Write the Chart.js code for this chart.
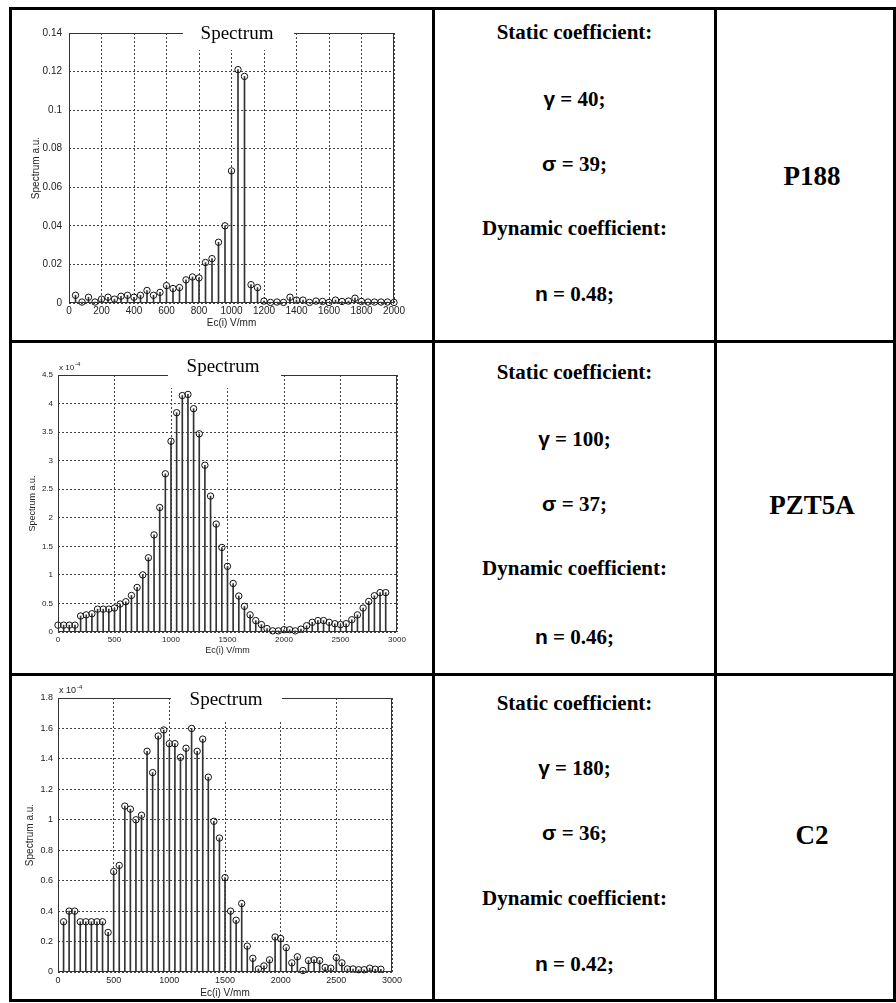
<!DOCTYPE html>
<html>
<head>
<meta charset="utf-8">
<script src="https://cdn.jsdelivr.net/npm/chart.js@4"></script>
<style>
  body { margin: 0; background: #fff; width: 896px; height: 1003px; position: relative; overflow: hidden; }
  .ln { position: absolute; background: #000; }
  .cv { position: absolute; left: 12px; }
  .t {
    position: absolute; left: 435px; width: 279px; text-align: center; white-space: nowrap;
    font-family: "Liberation Serif", "Times New Roman", serif; font-weight: bold;
    font-size: 21px; line-height: 21px; color: #000;
  }
  .g { font-family: "Liberation Sans", Arial, sans-serif; }
  .name { left: 722px; width: 180px; font-size: 27px; line-height: 27px; }
</style>
</head>
<body>
<!-- table rules -->
<div class="ln" style="left:9px;top:7px;width:887px;height:3px"></div>
<div class="ln" style="left:9px;top:999px;width:887px;height:3px"></div>
<div class="ln" style="left:9px;top:7px;width:3px;height:995px"></div>
<div class="ln" style="left:893px;top:7px;width:3px;height:995px"></div>
<div class="ln" style="left:432px;top:7px;width:3px;height:995px"></div>
<div class="ln" style="left:714px;top:7px;width:3px;height:995px"></div>
<div class="ln" style="left:9px;top:340px;width:887px;height:3px"></div>
<div class="ln" style="left:9px;top:673px;width:887px;height:3px"></div>

<canvas id="c1" class="cv" width="420" height="330" style="top:10px"></canvas>
<canvas id="c2" class="cv" width="420" height="330" style="top:343px"></canvas>
<canvas id="c3" class="cv" width="420" height="323" style="top:676px"></canvas>

<!-- row 1 -->
<div class="t" style="top:22px">Static coefficient:</div>
<div class="t" style="top:88px"><span class="g">γ</span> = 40;</div>
<div class="t" style="top:153px"><span class="g">σ</span> = 39;</div>
<div class="t" style="top:218px">Dynamic coefficient:</div>
<div class="t" style="top:283px"><span class="g">n</span> = 0.48;</div>
<div class="t name" style="top:163px">P188</div>
<!-- row 2 -->
<div class="t" style="top:362px">Static coefficient:</div>
<div class="t" style="top:428px"><span class="g">γ</span> = 100;</div>
<div class="t" style="top:493px"><span class="g">σ</span> = 37;</div>
<div class="t" style="top:558px">Dynamic coefficient:</div>
<div class="t" style="top:626px"><span class="g">n</span> = 0.46;</div>
<div class="t name" style="top:492px">PZT5A</div>
<!-- row 3 -->
<div class="t" style="top:693px">Static coefficient:</div>
<div class="t" style="top:757px"><span class="g">γ</span> = 180;</div>
<div class="t" style="top:822px"><span class="g">σ</span> = 36;</div>
<div class="t" style="top:888px">Dynamic coefficient:</div>
<div class="t" style="top:953px"><span class="g">n</span> = 0.42;</div>
<div class="t name" style="top:822px">C2</div>

<script>
// P188 spectrum
const xP188 = [40, 80, 120, 160, 200, 240, 280, 320, 360, 400, 440, 480, 520, 560, 600, 640, 680, 720, 760, 800,
  840, 880, 920, 960, 1000, 1040, 1080, 1120, 1160, 1200, 1240, 1280, 1320, 1360, 1400, 1440, 1480, 1520, 1560, 1600,
  1640, 1680, 1720, 1760, 1800, 1840, 1880, 1920, 1960, 2000]
const yP188 = [0.004, 0.0005, 0.003, 0.0005, 0.002, 0.003, 0.002, 0.0035, 0.004, 0.003, 0.004, 0.0065, 0.004, 0.0055,
  0.009, 0.0075, 0.008, 0.012, 0.0135, 0.013, 0.021, 0.023, 0.0315, 0.04, 0.0685, 0.121, 0.1175, 0.0095, 0.008, 0.001,
  0.0003, 0.0005, 0.0003, 0.003, 0.0015, 0.0015, 0.0003, 0.001, 0.0008, 0.0003, 0.0015, 0.0008, 0.001, 0.0025, 0.0008,
  0.0005, 0.0005, 0.0005, 0.0005, 0.0003]
const xTicksP188 = [0, 200, 400, 600, 800, 1000, 1200, 1400, 1600, 1800, 2000]
const yTicksP188 = [0, 0.02, 0.04, 0.06, 0.08, 0.1, 0.12, 0.14]

// PZT5A spectrum (x 10^-4)
const xPZT = [0, 50, 100, 150, 200, 250, 300, 350, 400, 450, 500, 550, 600, 650, 700, 750, 800, 850, 900, 950,
  1000, 1050, 1100, 1150, 1200, 1250, 1300, 1350, 1400, 1450, 1500, 1550, 1600, 1650, 1700, 1750, 1800, 1850, 1900, 1950,
  2000, 2050, 2100, 2150, 2200, 2250, 2300, 2350, 2400, 2450, 2500, 2550, 2600, 2650, 2700, 2750, 2800, 2850, 2900]
const yPZT = [0.12, 0.12, 0.12, 0.12, 0.28, 0.30, 0.32, 0.40, 0.40, 0.40, 0.42, 0.49, 0.53, 0.64, 0.78, 1.00, 1.30, 1.70,
  2.18, 2.77, 3.34, 3.84, 4.14, 4.16, 3.91, 3.47, 2.92, 2.38, 1.89, 1.48, 1.15, 0.85, 0.63, 0.45, 0.30, 0.20, 0.13, 0.06,
  0.02, 0.02, 0.04, 0.04, 0.02, 0.05, 0.11, 0.17, 0.20, 0.20, 0.17, 0.145, 0.13, 0.145, 0.215, 0.30, 0.42, 0.535, 0.635,
  0.69, 0.69]
const yTicksPZT = [0, 0.5, 1, 1.5, 2, 2.5, 3, 3.5, 4, 4.5]

// C2 spectrum (x 10^-4)
const xC2 = [50, 100, 150, 200, 250, 300, 350, 400, 450, 500, 550, 600, 650, 700, 750, 800, 850, 900, 950, 1000,
  1050, 1100, 1150, 1200, 1250, 1300, 1350, 1400, 1450, 1500, 1550, 1600, 1650, 1700, 1750, 1800, 1850, 1900, 1950, 2000,
  2050, 2100, 2150, 2200, 2250, 2300, 2350, 2400, 2450, 2500, 2550, 2600, 2650, 2700, 2750, 2800, 2850, 2900]
const yC2 = [0.33, 0.40, 0.40, 0.33, 0.33, 0.33, 0.33, 0.33, 0.26, 0.66, 0.70, 1.09, 1.07, 1.00, 1.03, 1.45, 1.31, 1.55,
  1.59, 1.50, 1.50, 1.41, 1.47, 1.60, 1.45, 1.53, 1.28, 0.99, 0.88, 0.62, 0.40, 0.34, 0.45, 0.17, 0.09, 0.02, 0.04, 0.08,
  0.23, 0.22, 0.16, 0.06, 0.10, 0.01, 0.075, 0.08, 0.075, 0.03, 0.025, 0.095, 0.06, 0.02, 0.02, 0.015, 0.015, 0.025,
  0.018, 0.018]
const yTicksC2 = [0, 0.2, 0.4, 0.6, 0.8, 1, 1.2, 1.4, 1.6, 1.8]

const xTicks3000 = [0, 500, 1000, 1500, 2000, 2500, 3000]

Chart.defaults.font.family = '"Liberation Sans", Arial, sans-serif'
Chart.defaults.color = '#222'

function stemChart(id, xs, ys, o) {
  const pts = xs.map((x, i) => ({ x: x, y: ys[i] }))

  // box round the axes, white patch behind the title, exponent label
  const frame = {
    id: 'frame',
    afterDatasetsDraw(chart) {
      const { ctx, chartArea: a } = chart
      ctx.save()
      ctx.strokeStyle = '#333'
      ctx.lineWidth = 1
      ctx.strokeRect(a.left + 0.5, a.top + 0.5, a.right - a.left - 1, a.bottom - a.top - 1)
      ctx.fillStyle = '#fff'
      ctx.fillRect(o.box[0], 0, o.box[1] - o.box[0], o.box[2])
      ctx.fillStyle = '#000'
      ctx.font = '19px "Liberation Serif", "Times New Roman", serif'
      ctx.textAlign = 'center'
      ctx.textBaseline = 'middle'
      ctx.fillText('Spectrum', o.titleAt[0], o.titleAt[1])
      if (o.exp) {
        ctx.fillStyle = '#222'
        ctx.textAlign = 'left'
        ctx.font = o.tick + 'px "Liberation Sans", Arial, sans-serif'
        ctx.fillText('x 10', a.left + 1, o.exp)
        const w = ctx.measureText('x 10').width
        ctx.font = '6px "Liberation Sans", Arial, sans-serif'
        ctx.fillText('-4', a.left + 2 + w, o.exp - 4)
      }
      ctx.restore()
    }
  }

  return new Chart(document.getElementById(id), {
    type: 'bar',
    data: {
      datasets: [
        { type: 'bar', data: pts, backgroundColor: '#333', barThickness: 1, order: 2 },
        {
          type: 'scatter', data: pts, pointRadius: 3.2, pointStyle: 'circle',
          borderColor: '#111', backgroundColor: 'rgba(0,0,0,0)', borderWidth: 1, clip: false, order: 1
        }
      ]
    },
    options: {
      responsive: false,
      animation: false,
      devicePixelRatio: 1,
      layout: { padding: { left: 0, top: o.top, right: o.right, bottom: 0 } },
      plugins: { legend: { display: false }, tooltip: { enabled: false } },
      scales: {
        x: {
          type: 'linear', min: 0, max: o.xMax, offset: false,
          grid: { color: '#444', drawTicks: false, offset: false },
          border: { display: false, dash: [2, 2] },
          afterBuildTicks: s => { s.ticks = o.xTicks.map(v => ({ value: v })) },
          afterFit: s => { s.height = o.xh },
          ticks: { font: { size: o.tick }, padding: o.xpad, maxRotation: 0, autoSkip: false, callback: v => String(v) },
          title: { display: true, text: 'Ec(i) V/mm', font: { size: o.lab }, padding: { top: 0, bottom: o.xtp } }
        },
        y: {
          min: 0, max: o.yMax,
          grid: { color: '#444', drawTicks: false },
          border: { display: false, dash: [2, 2] },
          afterBuildTicks: s => { s.ticks = o.yTicks.map(v => ({ value: v })) },
          afterFit: s => { s.width = o.yw },
          ticks: { font: { size: o.tick }, padding: o.ypad, autoSkip: false, callback: v => String(v) },
          title: { display: true, text: 'Spectrum a.u.', font: { size: o.lab }, padding: { top: o.ytp, bottom: 0 } }
        }
      }
    },
    plugins: [frame]
  })
}

stemChart('c1', xP188, yP188, {
  xMax: 2000, yMax: 0.14, xTicks: xTicksP188, yTicks: yTicksP188,
  top: 23, right: 38, yw: 57, xh: 37, tick: 10, lab: 10, xpad: 2, ypad: 7, xtp: 11, ytp: 18,
  box: [171, 282, 40], titleAt: [225, 24]
})
stemChart('c2', xPZT, yPZT, {
  xMax: 3000, yMax: 4.5, xTicks: xTicks3000, yTicks: yTicksPZT,
  top: 32, right: 35, yw: 46, xh: 41, tick: 8, lab: 9, xpad: 3, ypad: 5, xtp: 16.6, ytp: 15.6,
  box: [156, 269, 45], titleAt: [211, 24], exp: 25
})
stemChart('c3', xC2, yC2, {
  xMax: 3000, yMax: 1.8, xTicks: xTicks3000, yTicks: yTicksC2,
  top: 22, right: 40, yw: 46, xh: 27, tick: 9, lab: 10, xpad: 3, ypad: 5, xtp: 0, ytp: 12.7,
  box: [159, 270, 46], titleAt: [214, 24], exp: 15
})
</script>
</body>
</html>
